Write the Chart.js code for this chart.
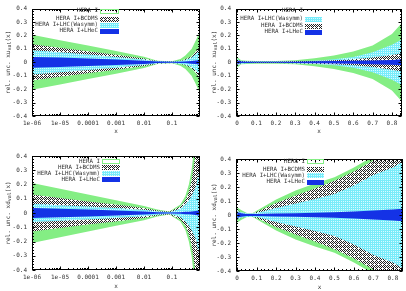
<!DOCTYPE html>
<html>
<head>
<meta charset="utf-8">
<script src="https://cdn.jsdelivr.net/npm/chart.js@4.4.0/dist/chart.umd.min.js"></script>
<style>
html, body { margin: 0; padding: 0; background: #fff; }
#wrap { position: relative; width: 406px; height: 291px; }
canvas { position: absolute; }
</style>
</head>
<body>
<div id="wrap">
  <canvas id="c1" width="203" height="145" style="left:0;top:0"></canvas>
  <canvas id="c2" width="203" height="145" style="left:203px;top:0"></canvas>
  <canvas id="c3" width="203" height="146" style="left:0;top:145px"></canvas>
  <canvas id="c4" width="203" height="146" style="left:203px;top:145px"></canvas>
</div>
<script>
// --- data (half widths of the relative uncertainty bands) ---
const legendNames = ['HERA I', 'HERA I+BCDMS', 'HERA I+LHC(Wasymm)', 'HERA I+LHeC'];

const yTicks = [-0.4, -0.3, -0.2, -0.1, 0, 0.1, 0.2, 0.3, 0.4];
const logTicks = [1e-6, 1e-5, 1e-4, 1e-3, 1e-2, 0.1];
const logTickLabels = ['1e-06', '1e-05', '0.0001', '0.001', '0.01', '0.1'];
const linTicks = [0, 0.1, 0.2, 0.3, 0.4, 0.5, 0.6, 0.7, 0.8];
const linTickLabels = ['0', '0.1', '0.2', '0.3', '0.4', '0.5', '0.6', '0.7', '0.8'];

// top left: xu_val, log x
const xUvLog = [1e-6, 1e-5, 1e-4, 1e-3, 1e-2, 0.03, 0.1, 0.2, 0.3, 0.5, 0.7, 1];
const uvLogHera  = [0.205, 0.165, 0.125, 0.085, 0.042, 0.012, 0.008, 0.025, 0.05, 0.1, 0.16, 0.23];
const uvLogBcdms = [0.135, 0.108, 0.082, 0.056, 0.028, 0.010, 0.006, 0.012, 0.022, 0.045, 0.08, 0.12];
const uvLogLhc   = [0.090, 0.075, 0.058, 0.040, 0.020, 0.008, 0.005, 0.010, 0.018, 0.035, 0.06, 0.09];
const uvLogLhec  = [0.040, 0.035, 0.028, 0.020, 0.012, 0.006, 0.004, 0.005, 0.006, 0.010, 0.013, 0.018];

// top right: xu_val, linear x
const xUvLin = [0, 0.02, 0.05, 0.1, 0.2, 0.3, 0.4, 0.5, 0.6, 0.7, 0.8, 0.85];
const uvLinHera  = [0.040, 0.015, 0.012, 0.010, 0.010, 0.015, 0.030, 0.050, 0.080, 0.125, 0.210, 0.290];
const uvLinLhc   = [0.025, 0.010, 0.008, 0.006, 0.006, 0.008, 0.012, 0.022, 0.040, 0.075, 0.130, 0.170];
const uvLinBcdms = [0.020, 0.008, 0.006, 0.005, 0.005, 0.007, 0.010, 0.015, 0.022, 0.035, 0.055, 0.068];
const uvLinLhec  = [0.015, 0.006, 0.005, 0.004, 0.004, 0.005, 0.007, 0.009, 0.011, 0.014, 0.018, 0.022];

// bottom left: xd_val, log x
const xDvLog = [1e-6, 1e-5, 1e-4, 1e-3, 1e-2, 0.03, 0.08, 0.2, 0.3, 0.4, 0.5, 0.7, 1];
const dvLogHera  = [0.21, 0.17, 0.13, 0.09, 0.05, 0.025, 0.010, 0.06, 0.12, 0.20, 0.30, 0.55, 0.90];
const dvLogBcdms = [0.13, 0.105, 0.08, 0.06, 0.035, 0.018, 0.008, 0.045, 0.09, 0.15, 0.23, 0.42, 0.75];
const dvLogLhc   = [0.065, 0.055, 0.045, 0.035, 0.022, 0.012, 0.006, 0.03, 0.06, 0.09, 0.12, 0.18, 0.32];
const dvLogLhec  = [0.035, 0.030, 0.025, 0.018, 0.010, 0.006, 0.004, 0.006, 0.008, 0.009, 0.010, 0.014, 0.020];

// bottom right: xd_val, linear x
const xDvLin = [0, 0.02, 0.05, 0.08, 0.1, 0.2, 0.3, 0.4, 0.5, 0.6, 0.7, 0.8, 0.85];
const dvLinHera  = [0.055, 0.035, 0.015, 0.015, 0.030, 0.11, 0.175, 0.225, 0.27, 0.34, 0.42, 0.52, 0.58];
const dvLinBcdms = [0.035, 0.020, 0.010, 0.012, 0.022, 0.085, 0.140, 0.190, 0.245, 0.31, 0.39, 0.48, 0.53];
const dvLinLhc   = [0.030, 0.020, 0.012, 0.012, 0.015, 0.050, 0.083, 0.115, 0.150, 0.21, 0.285, 0.34, 0.38];
const dvLinLhec  = [0.020, 0.012, 0.008, 0.008, 0.008, 0.010, 0.013, 0.016, 0.020, 0.025, 0.032, 0.040, 0.045];

// --- fills ---
function pattern(w, h, fn) {
  const c = document.createElement('canvas');
  c.width = w; c.height = h;
  const g = c.getContext('2d');
  fn(g);
  return g.createPattern(c, 'repeat');
}
const green = '#84ee84';
const blue = '#1432e6';
const checker = pattern(4, 4, g => {
  g.fillStyle = '#fff'; g.fillRect(0, 0, 4, 4);
  g.fillStyle = '#222';
  [[0,0],[2,0],[1,1],[3,1],[0,2],[2,2],[1,3]].forEach(p => g.fillRect(p[0], p[1], 1, 1));
});
const cyan = pattern(2, 2, g => {
  g.fillStyle = '#78ecfa'; g.fillRect(0, 0, 2, 2);
  g.fillStyle = '#d8fbff'; g.fillRect(0, 0, 1, 1);
});
const FONT = '6px "DejaVu Sans Mono"';
const KEYFONT = '5.8px "DejaVu Sans Mono"';
const SUBFONT = '5px "DejaVu Sans Mono"';

// --- frame, inward ticks, titles and key ---
const decoPlugin = {
  id: 'deco',
  afterDraw(chart, args, o) {
    const ctx = chart.ctx, a = chart.chartArea;
    const xs = chart.scales.x, ys = chart.scales.y;
    ctx.save();
    ctx.strokeStyle = '#000';
    ctx.lineWidth = 1;
    const L = Math.round(a.left) + 0.5, R = Math.round(a.right) - 0.5;
    const T = Math.round(a.top) + 0.5, B = Math.round(a.bottom) - 0.5;
    ctx.strokeRect(L, T, R - L, B - T);
    ctx.beginPath();
    for (let i = -20; i <= 20; i++) {
      const y = Math.round(ys.getPixelForValue(i * 0.02)) + 0.5;
      const len = i % 5 === 0 ? 3 : 1.5;
      ctx.moveTo(L, y); ctx.lineTo(L + len, y);
      ctx.moveTo(R, y); ctx.lineTo(R - len, y);
    }
    const xt = [];
    if (o.log) {
      for (let e = -6; e < 0; e++) for (let k = 1; k <= 9; k++) xt.push([k * Math.pow(10, e), k === 1 ? 3 : 1.5]);
    } else {
      for (let i = 0; i <= 42; i++) xt.push([i * 0.02, i % 5 === 0 ? 3 : 1.5]);
    }
    xt.forEach(([v, len]) => {
      const x = Math.round(xs.getPixelForValue(v)) + 0.5;
      if (x < L || x > R) return;
      ctx.moveTo(x, B); ctx.lineTo(x, B - len);
      ctx.moveTo(x, T); ctx.lineTo(x, T + len);
    });
    ctx.stroke();

    ctx.fillStyle = '#333';
    ctx.font = FONT;
    ctx.textAlign = 'center'; ctx.textBaseline = 'middle';
    ctx.fillText('x', (a.left + a.right) / 2, a.bottom + o.xTitleGap);

    // y title with subscript
    ctx.save();
    ctx.translate(o.yTitleX, (a.top + a.bottom) / 2);
    ctx.rotate(-Math.PI / 2);
    const p1 = 'rel. unc. ' + o.flav, p2 = 'val', p3 = '(x)';
    ctx.font = FONT;
    const w1 = ctx.measureText(p1).width, w3 = ctx.measureText(p3).width;
    ctx.font = SUBFONT;
    const w2 = ctx.measureText(p2).width;
    let x0 = -(w1 + w2 + w3) / 2;
    ctx.textAlign = 'left';
    ctx.font = FONT; ctx.fillText(p1, x0, 0); x0 += w1;
    ctx.font = SUBFONT; ctx.fillText(p2, x0, 2); x0 += w2;
    ctx.font = FONT; ctx.fillText(p3, x0, 0);
    ctx.restore();

    // key
    ctx.font = KEYFONT;
    ctx.textAlign = 'right'; ctx.textBaseline = 'middle';
    o.key.forEach((k, i) => {
      const y = a.top + o.rows[i];
      ctx.fillStyle = '#333';
      ctx.fillText(k.label, o.textRight, y);
      if (k.outline) {
        if (o.noOutline) return;
        ctx.strokeStyle = green;
        ctx.strokeRect(o.swX + 0.5, Math.round(y - 2) + 0.5, o.swW, 4);
      } else {
        ctx.fillStyle = k.fill;
        ctx.fillRect(o.swX, Math.round(y - 2), o.swW + 1, 5);
      }
    });
    ctx.restore();
  }
};

function makePanel(id, xs, bands, isLog, box, decoOpts) {
  const datasets = [];
  bands.forEach(b => {
    datasets.push({ data: xs.map((x, i) => ({ x: x, y: b.w[i] })), backgroundColor: b.fill,
      borderColor: 'rgba(0,0,0,0)', borderWidth: 0, pointRadius: 0, fill: '+1' });
    datasets.push({ data: xs.map((x, i) => ({ x: x, y: -b.w[i] })),
      borderColor: 'rgba(0,0,0,0)', borderWidth: 0, pointRadius: 0, fill: false });
  });
  const xTickVals = isLog ? logTicks : linTicks;
  const xTickLabels = isLog ? logTickLabels : linTickLabels;
  const tickFont = { family: 'DejaVu Sans Mono', size: 6 };
  new Chart(document.getElementById(id), {
    type: 'line',
    data: { datasets: datasets },
    options: {
      responsive: false, animation: false, devicePixelRatio: 1,
      layout: { padding: { left: 0, top: box.top, right: box.right, bottom: 0 } },
      elements: { line: { tension: 0 } },
      plugins: { legend: { display: false }, tooltip: { enabled: false }, deco: decoOpts },
      scales: {
        x: {
          type: isLog ? 'logarithmic' : 'linear',
          min: isLog ? 1e-6 : -0.006, max: isLog ? 1 : 0.852,
          grid: { display: false, drawTicks: false }, border: { display: false },
          afterBuildTicks: s => { s.ticks = xTickVals.map(v => ({ value: v })); },
          afterFit: s => { s.height = box.xH; },
          ticks: { autoSkip: false, maxRotation: 0, minRotation: 0, padding: 4, color: '#333', font: tickFont,
            callback: (v, i) => xTickLabels[i] }
        },
        y: {
          min: -0.4, max: 0.4,
          grid: { display: false, drawTicks: false }, border: { display: false },
          afterBuildTicks: s => { s.ticks = yTicks.map(v => ({ value: v })); },
          afterFit: s => { s.width = box.yW; },
          ticks: { padding: 5, color: '#333', font: tickFont,
            callback: v => Math.abs(v) < 1e-9 ? '0' : v.toFixed(1) }
        }
      }
    },
    plugins: [decoPlugin]
  });
}

const keyStd = [
  { label: legendNames[0], outline: true },
  { label: legendNames[1], fill: checker },
  { label: legendNames[2], fill: cyan },
  { label: legendNames[3], fill: blue }
];
const keyTR = [keyStd[0], keyStd[2], keyStd[1], keyStd[3]];

makePanel('c1', xUvLog, [
  { w: uvLogLhec, fill: blue }, { w: uvLogLhc, fill: cyan },
  { w: uvLogBcdms, fill: checker }, { w: uvLogHera, fill: green }
], true, { top: 5, right: 3, xH: 29, yW: 32 },
{ log: true, flav: 'xu', yTitleX: 8, xTitleGap: 15, textRight: 98, swX: 100, swW: 18, rows: [2, 10, 16, 22], key: keyStd });

makePanel('c2', xUvLin, [
  { w: uvLinLhec, fill: blue }, { w: uvLinBcdms, fill: checker },
  { w: uvLinLhc, fill: cyan }, { w: uvLinHera, fill: green }
], false, { top: 5, right: 4, xH: 29, yW: 33 },
{ log: false, flav: 'xu', yTitleX: 11, xTitleGap: 15, textRight: 100, swX: 102, swW: 16, rows: [2, 10, 17, 23], key: keyTR, noOutline: true });

makePanel('c3', xDvLog, [
  { w: dvLogLhec, fill: blue }, { w: dvLogLhc, fill: cyan },
  { w: dvLogBcdms, fill: checker }, { w: dvLogHera, fill: green }
], true, { top: 11, right: 3, xH: 21, yW: 32 },
{ log: true, flav: 'xd', yTitleX: 8, xTitleGap: 16, textRight: 100, swX: 102, swW: 17, rows: [5, 11, 17, 23], key: keyStd });

makePanel('c4', xDvLin, [
  { w: dvLinLhec, fill: blue }, { w: dvLinLhc, fill: cyan },
  { w: dvLinBcdms, fill: checker }, { w: dvLinHera, fill: green }
], false, { top: 14, right: 3, xH: 20, yW: 33 },
{ log: false, flav: 'xd', yTitleX: 11, xTitleGap: 16, textRight: 102, swX: 104, swW: 16, rows: [2, 10, 16, 22.5], key: keyStd });
</script>
</body>
</html>
